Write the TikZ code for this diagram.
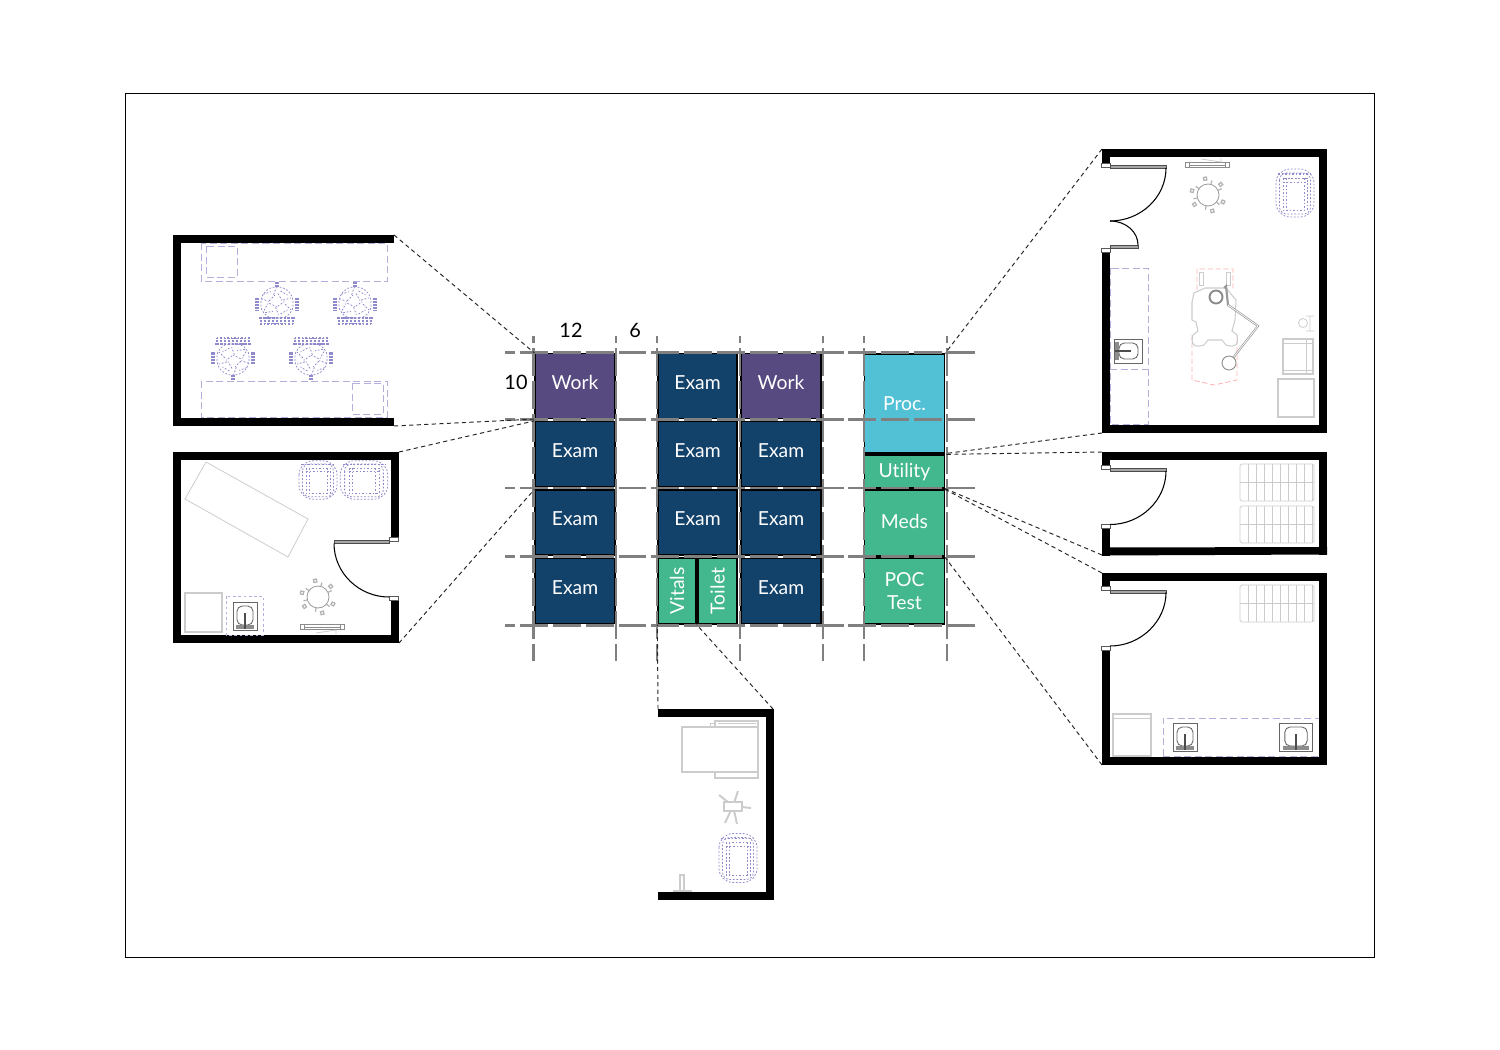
\documentclass[tikz,border=0pt]{standalone}
\usepackage{fontspec}
\setmainfont{Lato}[Ligatures=NoCommon]
\tikzset{>=latex}
\definecolor{examblue}{HTML}{12416A}
\definecolor{workpurple}{HTML}{574A80}
\definecolor{procblue}{HTML}{52C1D6}
\definecolor{suppgreen}{HTML}{43B88F}
\definecolor{gridgray}{HTML}{808080}
\definecolor{lav}{HTML}{B4B0DC}
\definecolor{lavdark}{HTML}{8F8ACB}
\definecolor{furn}{HTML}{CCCCCC}
\tikzset{
  cell/.style={draw=black, line width=0.7pt, text=white, inner sep=0pt, align=center, font=\fontsize{11}{13.5}\selectfont},
  exam/.style={cell, fill=examblue, minimum width=1.6cm, minimum height=1.3cm},
  work/.style={cell, fill=workpurple, minimum width=1.6cm, minimum height=1.3cm},
  supp/.style={cell, fill=suppgreen},
  celltext/.style={text=white, inner sep=0pt, align=center, font=\fontsize{11}{13.5}\selectfont},
  gridh/.style={color=gridgray, line width=1.15pt, dash pattern=on 15.9pt off 2.8pt, dash phase=10.2pt},
  gridv/.style={color=gridgray, line width=1.15pt, dash pattern=on 15.9pt off 2.8pt, dash phase=11.9pt},
  link/.style={color=black!85, line width=0.55pt, dash pattern=on 2.4pt off 1.9pt},
  wall/.style={fill=black},
  dim/.style={text=black, inner sep=0pt, font=\fontsize{11.3}{13.5}\selectfont},
  dashlav/.style={color=lav, line width=0.5pt, dash pattern=on 4pt off 2pt},
  dotlav/.style={color=lavdark, line width=0.45pt, dash pattern=on 1pt off 1pt},
  fur/.style={color=furn, line width=0.45pt},
  darkfur/.style={color=black!60, line width=0.5pt},
  pics/armchair/.style={code={
    \draw[dotlav, rounded corners=8] (-15,-17) -- (15,-17) -- (17,14) -- (-17,14) -- cycle;
    \foreach \px/\py/\ang in {-10/-11/20,-2/-13/70,7/-11/-30,-12/-4/-20,-5/-6/45,3/-7/-60,10/-5/15,-11/3/60,-4/1/-25,4/0/35,11/3/-45,-8/8/10,0/7/-70,7/8/30}
      \draw[dotlav, rotate around={\ang:(\px,\py)}] (\px-4,\py) -- (\px+4,\py);
    \foreach \k in {-16,-12,...,16} \draw[color=lavdark, line width=0.6pt, dash pattern=on 1pt off 0.7pt] (\k,13) -- (\k,20);
    \draw[dotlav, line width=0.7pt] (-18,14) -- (18,14) (-17,20) -- (17,20);
    \foreach \sx in {-21,-19,19,21} \draw[color=lavdark, line width=0.6pt, dash pattern=on 1pt off 0.7pt] (\sx,-6) -- (\sx,6);
    \foreach \k in {-1.5,0,1.5} \draw[color=lavdark, line width=0.6pt, dash pattern=on 1pt off 0.7pt] (\k,-22) -- (\k,-17);
  }},
  pics/lounge/.style={code={
    \draw[dotlav, rounded corners=8] (-19,-24) rectangle (19,24);
    \draw[dotlav, rounded corners=4] (-15.5,-20) rectangle (15.5,21);
    \draw[dotlav] (-12,-15) rectangle (12,17);
    \draw[dotlav] (-9,-15) -- (-9,17) (9,-15) -- (9,17) (-12,-11) -- (12,-11);
    \draw[dotlav, line width=0.7pt] (-17,-19) -- (17,-19);
  }},
  pics/stool/.style={code={
    \draw[color=black!40, line width=0.45pt] (0,0) circle (11);
    \foreach \a in {40,100,165,215,285,335} {
      \draw[color=black!30, line width=0.7pt] (\a:11) -- (\a:15);
      \draw[color=black!30, line width=0.7pt, fill=white, rotate around={\a:(0,0)}] (15,-1.5) rectangle (18,1.5);
    }
  }},
  pics/deskbar/.style={code={
    \draw[color=black!45, line width=0.4pt] (-22,-2.2) rectangle (22,2.2);
    \draw[color=black!45, line width=0.4pt] (-18,-2.2) -- (-18,2.2) (18,-2.2) -- (18,2.2) (-18,0) -- (18,0);
    \draw[fur] (-6,6) -- (14,3) (14,3) -- (14,7);
  }},
  pics/rack/.style={code={
    \draw[fur, rounded corners=1] (0,0) rectangle (74,37);
    \draw[fur] (0,18.5) -- (74,18.5);
    \foreach \v in {8,16,...,72} \draw[fur] (\v,0) -- (\v,37);
  }},
  pics/sink/.style={code={
    \draw[darkfur] (-12,-14) rectangle (12,14);
    \draw[darkfur, rounded corners=3] (-8,-10) rectangle (8,9);
    \fill[color=black!45] (-9,9) rectangle (9,13);
    \fill[color=black!70] (-1,-3) rectangle (1,13);
  }}
}
\newcommand{\doorjamb}[2]{\draw[color=black!65, fill=white, line width=0.4pt] (#1,#2) rectangle ++(9,4);}
\newcommand{\doorleaf}[3]{\draw[color=black!70, fill=black!35, line width=0.4pt] (#1,#2) rectangle (#3,#2+3);}
\begin{document}
\begin{tikzpicture}[x=0.02cm,y=-0.02cm]
\useasboundingbox (0,0) rectangle (1500,1050);
\draw[line width=0.55pt] (125.5,93.5) rectangle (1374.5,957);

% work room plan
\fill[wall] (173,235) rectangle (394,243);
\fill[wall] (173,418) rectangle (394,426);
\fill[wall] (173,235) rectangle (181,426);
\draw[dashlav] (201,243) rectangle (387,281);
\draw[dashlav] (206,246) rectangle (237,277);
\draw[dashlav] (201,381) rectangle (387,417);
\draw[dashlav] (352,383) rectangle (383,414);
\pic at (277,304) {armchair};
\pic at (355,304) {armchair};
\pic[rotate=180] at (233,358) {armchair};
\pic[rotate=180] at (311,358) {armchair};
\coordinate (workplanTop) at (394,235);
\coordinate (workplanBot) at (394,426);

% exam room plan
\fill[wall] (173,452) rectangle (399,460);
\fill[wall] (173,635) rectangle (399,643);
\fill[wall] (173,452) rectangle (181,643);
\fill[wall] (391,452) rectangle (399,538);
\fill[wall] (391,600) rectangle (399,643);
\doorjamb{389}{537}
\doorjamb{389}{596}
\doorleaf{334}{540.5}{389}
\draw[line width=0.6pt] (334,543.5) .. controls (334,573) and (359,597) .. (389,597);
\draw[fur] (206,462) -- (308,519) -- (288,557) -- (185,499) -- cycle;
\pic[yscale=0.8] at (318,480) {lounge};
\pic[yscale=0.8, xscale=1.25] at (364,480) {lounge};
\draw[fur, line width=0.7pt] (185,593) rectangle (222,632);
\draw[dashlav, dash pattern=on 1.5pt off 1.5pt] (226,596) rectangle (263,635);
\pic at (245,616) {sink};
\pic at (318,597) {stool};
\pic at (322,627) {deskbar};
\coordinate (examplanTop) at (399,452);
\coordinate (examplanBot) at (399,643);

% procedure room plan
\fill[wall] (1102,149) rectangle (1327,157);
\fill[wall] (1102,425) rectangle (1327,433);
\fill[wall] (1319,149) rectangle (1327,433);
\fill[wall] (1102,149) rectangle (1110,163);
\fill[wall] (1102,250) rectangle (1110,433);
\doorjamb{1101}{163}
\doorjamb{1101}{248}
\doorleaf{1110}{165}{1166}
\doorleaf{1110}{245}{1138}
\draw[line width=0.6pt] (1166,168) .. controls (1166,197) and (1141,221) .. (1110,221);
\draw[line width=0.6pt] (1138,245) .. controls (1138,232) and (1126,221) .. (1110,221);
\draw[dashlav] (1110,268) rectangle (1148,424);
\draw[dashlav] (1110,369) -- (1148,369);
\pic[rotate=-90] at (1128,351) {sink};
\pic[yscale=-1] at (1207,165) {deskbar};
\pic at (1208,195) {stool};
\pic at (1295,193) {lounge};
\draw[color=red!30, line width=0.45pt, dash pattern=on 3pt off 1.5pt] (1197,290) -- (1197,269) -- (1233,269) -- (1233,290) (1192,335) -- (1192,380) -- (1214,385) -- (1237,380) -- (1237,335);
\draw[fur] (1199,272) -- (1199,285) -- (1203,285) -- (1203,272) -- cycle (1226,272) -- (1226,285) -- (1230,285) -- (1230,272) -- cycle;
\draw[fur, line width=0.6pt] (1205,288) -- (1194,293) -- (1192,302) -- (1192,320) -- (1196,322) -- (1198,331) -- (1193,335) .. controls (1190,345) and (1195,348) .. (1204,345) -- (1208,340) -- (1222,340) -- (1226,345) .. controls (1235,348) and (1239,345) .. (1237,335) -- (1232,331) -- (1235,320) -- (1236,300) -- (1226,288) -- cycle;
\draw[color=black!45, line width=1.1pt] (1216,297) circle (6.5);
\draw[color=black!40, line width=1.2pt] (1224,288) -- (1226,286) -- (1228,305) -- (1258,326) -- (1229,363);
\draw[color=white, line width=0.4pt] (1228,305) -- (1258,326) -- (1229,363);
\draw[color=black!45, line width=0.5pt, fill=white] (1229,363) circle (7);
\draw[fur, line width=0.6pt] (1283,339) rectangle (1313,374);
\draw[fur] (1283,343) -- (1313,343) (1283,370) -- (1313,370) (1306,339) -- (1306,374);
\draw[fur, line width=0.6pt] (1278,379) rectangle (1314,417);
\draw[fur] (1303,323) circle (4.5) (1310,316) -- (1310,331) (1306,316) -- (1314,316) (1306,331) -- (1314,331);
\coordinate (procplanTop) at (1102,149);
\coordinate (procplanBot) at (1102,433);

% utility room plan
\fill[wall] (1102,452) rectangle (1327,460);
\fill[wall] (1102,547.5) -- (1327,547) -- (1327,554.5) -- (1102,555.5) -- cycle;
\fill[wall] (1319,452) rectangle (1327,554.5);
\fill[wall] (1102,452) rectangle (1110,466);
\fill[wall] (1102,526) rectangle (1110,555.5);
\doorjamb{1101}{465.5}
\doorjamb{1101}{524}
\doorleaf{1110}{468.5}{1166}
\draw[line width=0.6pt] (1166,471) .. controls (1166,500) and (1141,524.5) .. (1110,524.5);
\pic at (1240,464) {rack};
\pic at (1240,506) {rack};
\coordinate (utilplanTop) at (1102,452);
\coordinate (utilplanBot) at (1102,555);

% meds room plan
\fill[wall] (1102,573) rectangle (1327,581);
\fill[wall] (1102,757) rectangle (1327,765);
\fill[wall] (1319,573) rectangle (1327,765);
\fill[wall] (1102,573) rectangle (1110,587);
\fill[wall] (1102,648) rectangle (1110,765);
\doorjamb{1101}{586.5}
\doorjamb{1101}{646}
\doorleaf{1110}{590}{1166}
\draw[line width=0.6pt] (1166,592.5) .. controls (1166,621) and (1141,646) .. (1110,646);
\pic at (1240,585) {rack};
\draw[dashlav] (1163,756) -- (1163,718) -- (1319,718);
\draw[dashlav] (1163,756) -- (1319,756);
\draw[fur, line width=0.6pt] (1113,714) rectangle (1151,756);
\draw[fur] (1113,718) -- (1151,718);
\pic at (1185,737) {sink};
\pic[xscale=1.4] at (1296,737) {sink};
\coordinate (medsplanTop) at (1102,573);
\coordinate (medsplanBot) at (1102,765);

% vitals room plan
\fill[wall] (658,709) rectangle (774,717);
\fill[wall] (658,892) rectangle (774,900);
\fill[wall] (766,709) rectangle (774,900);
\draw[fur, line width=0.6pt] (715,721) rectangle (758,778);
\draw[fur, line width=0.6pt, fill=white] (682,727) rectangle (758,772);
\draw[fur] (718,723) -- (756,723) (710,727) -- (710,723) -- (715,723);
\foreach \px/\py in {719/795,738/791,751/808,725/823,737/824}
  \draw[fur, line width=1.1pt] (733,806) -- (\px,\py);
\draw[fur, line width=0.6pt, fill=white] (724,802) rectangle (742,811);
\pic[yscale=1.02] at (738,858) {lounge};
\draw[fur, line width=0.7pt] (680,891) -- (680,875) -- (684,875) -- (684,891) (673,891) -- (692,891);
\coordinate (vitalplanTop) at (658,709);
\coordinate (vitalplanBot) at (773,709);

% rooms
\node[work] (workA) at (575,386) {};
\node[exam] (examA) at (575,454) {};
\node[exam] (examB) at (575,522.5) {};
\node[exam] (examC) at (575,591) {};
\node[exam, minimum width=1.58cm] (examD) at (697.5,386) {};
\node[exam, minimum width=1.58cm] (examE) at (697.5,454) {};
\node[exam, minimum width=1.58cm] (examF) at (697.5,522.5) {};
\node[work] (workB) at (781,386) {};
\node[exam] (examG) at (781,454) {};
\node[exam] (examH) at (781,522.5) {};
\node[exam] (examI) at (781,591) {};
\node[cell, fill=procblue, minimum width=1.6cm, minimum height=1.98cm] (proc) at (904.5,403.5) {Proc.};
\node[supp, minimum width=1.6cm, minimum height=0.66cm] (util) at (904.5,471.5) {};
\node[supp, minimum width=1.6cm, minimum height=1.32cm] (meds) at (904.5,523) {};
\node[supp, minimum width=1.6cm, minimum height=1.32cm] (poc) at (904.5,591) {};
\node[supp, minimum width=0.76cm, minimum height=1.32cm] (vitals) at (677,591) {};
\node[supp, minimum width=0.78cm, minimum height=1.32cm] (toilet) at (717.5,591) {};

% labels
\foreach \n/\t in {workA/Work,workB/Work,examA/Exam,examB/Exam,examC/Exam,examD/Exam,examE/Exam,examF/Exam,examG/Exam,examH/Exam,examI/Exam}
  \node[celltext] at ([yshift=0.07cm]\n.center) {\t};
\node[celltext] at ([yshift=-0.02cm]util.center) {Utility};
\node[celltext] at ([yshift=0.04cm]meds.center) {Meds};
\node[celltext] at (poc.center) {POC\\Test};
\node[celltext, rotate=90] at (vitals.center) {Vitals};
\node[celltext, rotate=90] at (toilet.center) {Toilet};

\node[dim] (dimA) at (571,330) {12};
\node[dim] (dimB) at (635,330) {6};
\node[dim] (dimC) at (516,382) {10};

% planning grid
\foreach \y in {352.5,419.5,488,556.5,625.5}
  \draw[gridh] (505,\y) -- (977,\y);
\foreach \x in {533.5,616,656.5,739.5,823,863.5,946.5}
  \draw[gridv] (\x,336) -- (\x,661);

% callouts
\draw[link] (workplanTop) -- (workA.north west);
\draw[link] (workplanBot) -- (workA.south west);
\draw[link] (examplanTop) -- (examA.north west);
\draw[link] (examplanBot) -- (examB.north west);
\draw[link] (procplanTop) -- (proc.north east);
\draw[link] (procplanBot) -- (proc.south east);
\draw[link] (utilplanTop) -- (util.north east);
\draw[link] (utilplanBot) -- (util.south east);
\draw[link] (medsplanTop) -- (meds.north east);
\draw[link] (medsplanBot) -- (poc.north east);
\draw[link] (vitalplanTop) -- (vitals.south west);
\draw[link] (vitalplanBot) -- (vitals.south east);
\end{tikzpicture}
\end{document}
